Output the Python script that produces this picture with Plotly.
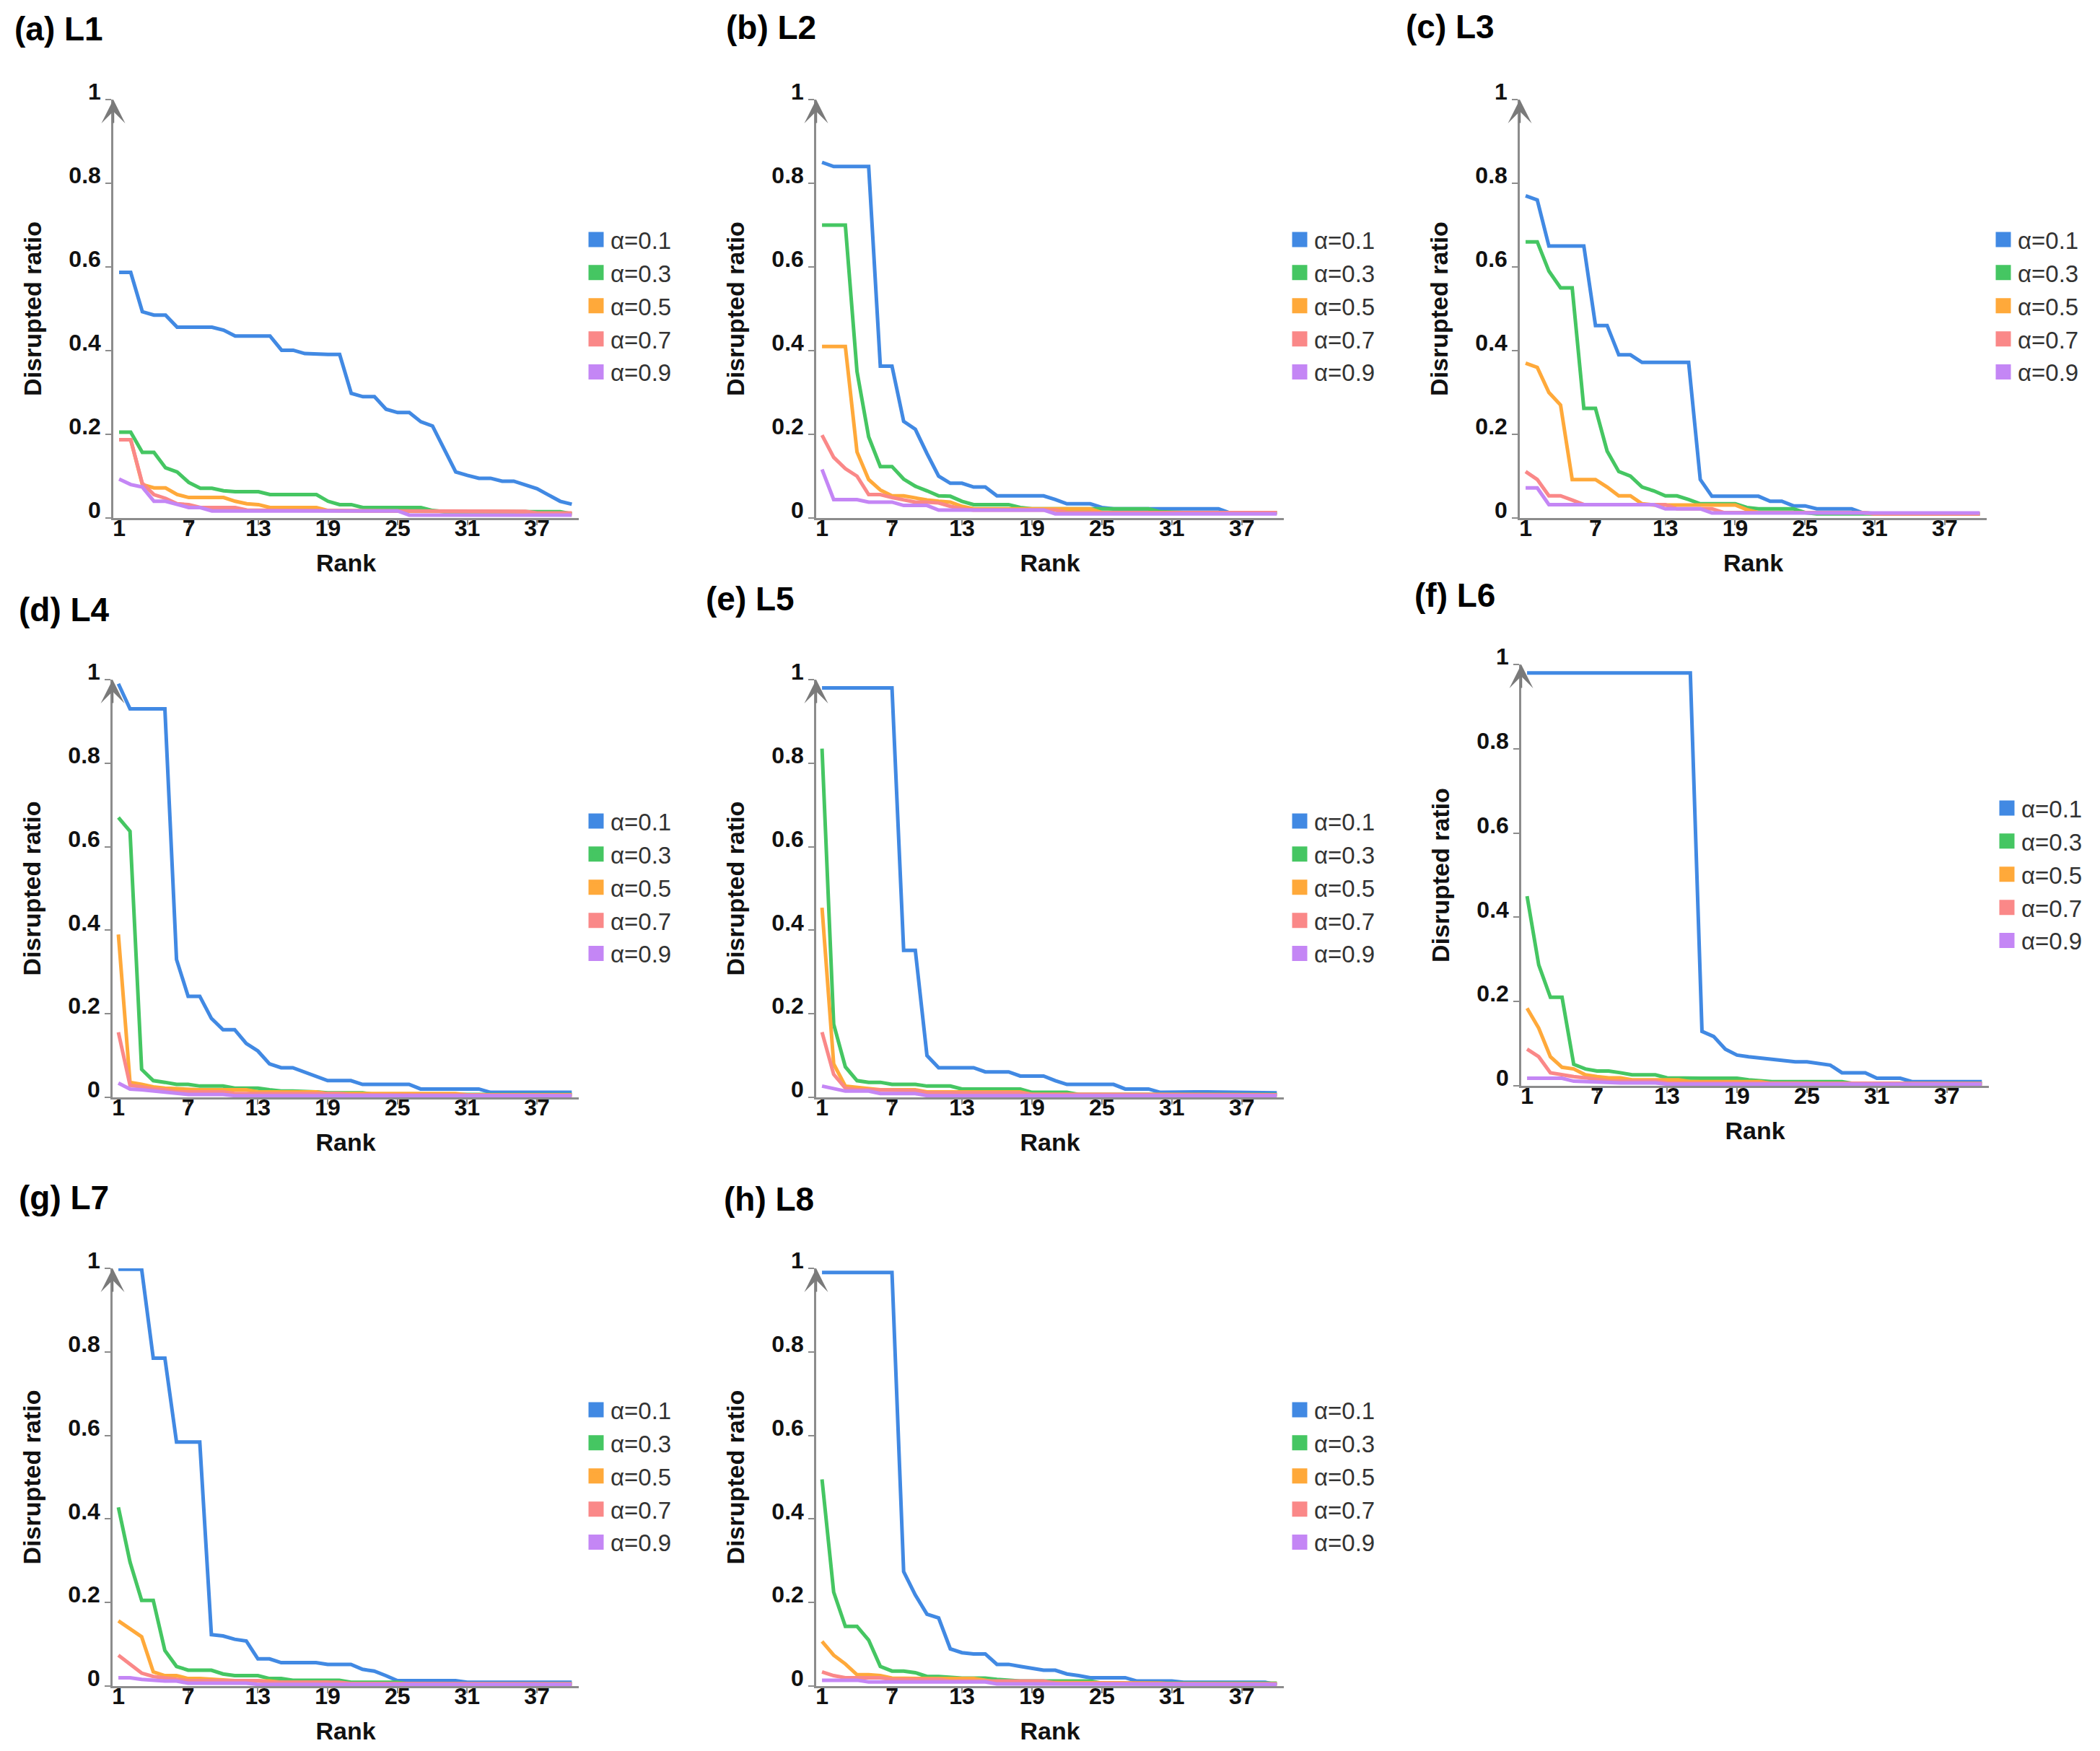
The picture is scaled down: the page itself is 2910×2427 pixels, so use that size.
import plotly.graph_objects as go

# ranks on the x axis (top 40 nodes)
RANKS = list(range(1, 41))
X_TICKS = [1, 7, 13, 19, 25, 31, 37]
Y_TICKS = [0, 0.2, 0.4, 0.6, 0.8, 1]
Y_TICKTEXT = ["0", "0.2", "0.4", "0.6", "0.8", "1"]

ALPHA_LABELS = ["α=0.1", "α=0.3", "α=0.5", "α=0.7", "α=0.9"]
COLORS = ["#4189E3", "#45C662", "#FFA93A", "#FA8888", "#C486F5"]
PANEL_TITLES = ["(a) L1", "(b) L2", "(c) L3", "(d) L4", "(e) L5", "(f) L6", "(g) L7", "(h) L8"]

# disrupted ratio per rank
L1_A1 = [0.587, 0.587, 0.493, 0.485, 0.485, 0.456, 0.456, 0.456, 0.456, 0.449,
         0.435, 0.435, 0.435, 0.435, 0.401, 0.401, 0.393, 0.391, 0.391, 0.391,
         0.298, 0.29, 0.29, 0.26, 0.252, 0.252, 0.23, 0.22, 0.165, 0.11,
         0.102, 0.095, 0.095, 0.088, 0.088, 0.08, 0.07, 0.055, 0.04, 0.033]
L1_A3 = [0.205, 0.205, 0.157, 0.157, 0.12, 0.11, 0.085, 0.071, 0.071, 0.065,
         0.063, 0.063, 0.063, 0.056, 0.056, 0.056, 0.056, 0.056, 0.04, 0.032,
         0.032, 0.025, 0.025, 0.025, 0.025, 0.025, 0.025, 0.018, 0.015, 0.015,
         0.015, 0.015, 0.015, 0.015, 0.015, 0.015, 0.015, 0.015, 0.015, 0.01]
L1_A5 = [0.187, 0.187, 0.08, 0.072, 0.072, 0.056, 0.049, 0.049, 0.049, 0.049,
         0.04, 0.034, 0.032, 0.025, 0.025, 0.025, 0.025, 0.025, 0.018, 0.017,
         0.017, 0.017, 0.017, 0.017, 0.017, 0.017, 0.016, 0.015, 0.015, 0.015,
         0.015, 0.015, 0.015, 0.015, 0.015, 0.013, 0.01, 0.01, 0.01, 0.01]
L1_A7 = [0.187, 0.187, 0.083, 0.056, 0.047, 0.034, 0.032, 0.025, 0.025, 0.025,
         0.025, 0.019, 0.018, 0.018, 0.018, 0.018, 0.018, 0.018, 0.018, 0.018,
         0.017, 0.017, 0.017, 0.017, 0.017, 0.017, 0.016, 0.016, 0.016, 0.016,
         0.016, 0.016, 0.016, 0.016, 0.016, 0.016, 0.012, 0.012, 0.012, 0.012]
L1_A9 = [0.093, 0.08, 0.074, 0.04, 0.04, 0.032, 0.025, 0.025, 0.017, 0.017,
         0.017, 0.017, 0.017, 0.017, 0.017, 0.017, 0.017, 0.017, 0.017, 0.017,
         0.017, 0.017, 0.017, 0.017, 0.017, 0.007, 0.007, 0.007, 0.007, 0.007,
         0.007, 0.007, 0.007, 0.007, 0.007, 0.007, 0.007, 0.007, 0.007, 0.007]

L2_A1 = [0.85, 0.84, 0.84, 0.84, 0.84, 0.363, 0.363, 0.231, 0.212, 0.154,
         0.10, 0.083, 0.083, 0.074, 0.074, 0.053, 0.053, 0.053, 0.053, 0.053,
         0.044, 0.034, 0.034, 0.034, 0.025, 0.022, 0.022, 0.022, 0.022, 0.022,
         0.022, 0.022, 0.022, 0.022, 0.022, 0.012, 0.012, 0.012, 0.012, 0.012]
L2_A3 = [0.70, 0.70, 0.70, 0.35, 0.194, 0.123, 0.123, 0.093, 0.076, 0.065,
         0.053, 0.052, 0.04, 0.032, 0.032, 0.032, 0.032, 0.025, 0.022, 0.022,
         0.022, 0.022, 0.022, 0.022, 0.022, 0.022, 0.022, 0.022, 0.022, 0.015,
         0.013, 0.013, 0.013, 0.013, 0.013, 0.013, 0.013, 0.013, 0.013, 0.013]
L2_A5 = [0.41, 0.41, 0.41, 0.158, 0.092, 0.067, 0.053, 0.053, 0.047, 0.043,
         0.04, 0.038, 0.028, 0.022, 0.022, 0.022, 0.022, 0.022, 0.022, 0.022,
         0.022, 0.022, 0.022, 0.022, 0.013, 0.013, 0.013, 0.013, 0.013, 0.013,
         0.013, 0.013, 0.013, 0.013, 0.013, 0.013, 0.013, 0.013, 0.013, 0.013]
L2_A7 = [0.198, 0.145, 0.118, 0.10, 0.056, 0.056, 0.049, 0.043, 0.038, 0.038,
         0.036, 0.028, 0.022, 0.019, 0.019, 0.019, 0.019, 0.019, 0.019, 0.019,
         0.019, 0.013, 0.013, 0.013, 0.013, 0.013, 0.013, 0.013, 0.013, 0.013,
         0.013, 0.013, 0.013, 0.013, 0.013, 0.013, 0.013, 0.013, 0.013, 0.013]
L2_A9 = [0.116, 0.044, 0.044, 0.044, 0.038, 0.038, 0.038, 0.03, 0.03, 0.03,
         0.019, 0.019, 0.019, 0.019, 0.019, 0.019, 0.019, 0.019, 0.019, 0.019,
         0.01, 0.01, 0.01, 0.01, 0.01, 0.01, 0.01, 0.01, 0.01, 0.01,
         0.01, 0.01, 0.01, 0.01, 0.01, 0.01, 0.01, 0.01, 0.01, 0.01]

L3_A1 = [0.77, 0.76, 0.65, 0.65, 0.65, 0.65, 0.46, 0.46, 0.39, 0.39,
         0.372, 0.372, 0.372, 0.372, 0.372, 0.092, 0.052, 0.052, 0.052, 0.052,
         0.052, 0.04, 0.04, 0.029, 0.029, 0.022, 0.022, 0.022, 0.022, 0.012,
         0.01, 0.01, 0.01, 0.01, 0.01, 0.01, 0.01, 0.01, 0.01, 0.01]
L3_A3 = [0.66, 0.66, 0.59, 0.55, 0.55, 0.262, 0.262, 0.16, 0.111, 0.10,
         0.074, 0.065, 0.053, 0.053, 0.044, 0.034, 0.034, 0.034, 0.034, 0.025,
         0.022, 0.022, 0.022, 0.022, 0.013, 0.01, 0.01, 0.01, 0.01, 0.01,
         0.01, 0.01, 0.01, 0.01, 0.01, 0.01, 0.01, 0.01, 0.01, 0.01]
L3_A5 = [0.37, 0.36, 0.30, 0.27, 0.092, 0.092, 0.092, 0.074, 0.053, 0.053,
         0.034, 0.031, 0.031, 0.031, 0.031, 0.031, 0.031, 0.031, 0.031, 0.02,
         0.013, 0.013, 0.013, 0.013, 0.013, 0.013, 0.013, 0.013, 0.013, 0.013,
         0.01, 0.01, 0.01, 0.01, 0.01, 0.01, 0.01, 0.01, 0.01, 0.01]
L3_A7 = [0.111, 0.092, 0.053, 0.053, 0.043, 0.032, 0.032, 0.032, 0.032, 0.032,
         0.032, 0.032, 0.032, 0.022, 0.022, 0.022, 0.022, 0.013, 0.013, 0.013,
         0.013, 0.013, 0.013, 0.013, 0.013, 0.013, 0.013, 0.013, 0.013, 0.013,
         0.01, 0.01, 0.01, 0.01, 0.01, 0.01, 0.01, 0.01, 0.01, 0.01]
L3_A9 = [0.072, 0.072, 0.032, 0.032, 0.032, 0.032, 0.032, 0.032, 0.032, 0.032,
         0.032, 0.032, 0.022, 0.022, 0.022, 0.022, 0.012, 0.012, 0.012, 0.012,
         0.012, 0.012, 0.012, 0.012, 0.012, 0.012, 0.012, 0.012, 0.012, 0.012,
         0.012, 0.012, 0.012, 0.012, 0.012, 0.012, 0.012, 0.012, 0.012, 0.012]

L4_A1 = [0.99, 0.93, 0.93, 0.93, 0.93, 0.33, 0.242, 0.242, 0.189, 0.162,
         0.162, 0.129, 0.111, 0.08, 0.071, 0.071, 0.061, 0.049, 0.04, 0.04,
         0.04, 0.031, 0.031, 0.031, 0.031, 0.031, 0.02, 0.02, 0.02, 0.02,
         0.02, 0.02, 0.012, 0.012, 0.012, 0.012, 0.012, 0.012, 0.012, 0.012]
L4_A3 = [0.67, 0.637, 0.067, 0.04, 0.036, 0.031, 0.031, 0.027, 0.027, 0.027,
         0.022, 0.022, 0.022, 0.018, 0.015, 0.015, 0.015, 0.013, 0.011, 0.011,
         0.011, 0.011, 0.007, 0.007, 0.007, 0.007, 0.007, 0.007, 0.007, 0.007,
         0.007, 0.007, 0.007, 0.007, 0.007, 0.007, 0.007, 0.007, 0.007, 0.007]
L4_A5 = [0.39, 0.036, 0.031, 0.025, 0.022, 0.02, 0.018, 0.018, 0.018, 0.018,
         0.018, 0.018, 0.013, 0.013, 0.013, 0.013, 0.013, 0.013, 0.009, 0.009,
         0.009, 0.009, 0.009, 0.009, 0.009, 0.009, 0.009, 0.009, 0.009, 0.009,
         0.006, 0.006, 0.006, 0.006, 0.006, 0.006, 0.006, 0.006, 0.006, 0.006]
L4_A7 = [0.156, 0.029, 0.025, 0.02, 0.018, 0.013, 0.013, 0.013, 0.013, 0.013,
         0.009, 0.009, 0.009, 0.009, 0.009, 0.009, 0.009, 0.009, 0.009, 0.009,
         0.006, 0.006, 0.006, 0.006, 0.006, 0.006, 0.006, 0.006, 0.006, 0.006,
         0.005, 0.005, 0.005, 0.005, 0.005, 0.005, 0.005, 0.005, 0.005, 0.005]
L4_A9 = [0.034, 0.02, 0.018, 0.015, 0.013, 0.009, 0.007, 0.007, 0.007, 0.007,
         0.004, 0.004, 0.004, 0.004, 0.004, 0.004, 0.004, 0.004, 0.004, 0.004,
         0.004, 0.004, 0.004, 0.004, 0.004, 0.004, 0.004, 0.004, 0.004, 0.004,
         0.004, 0.004, 0.004, 0.004, 0.004, 0.004, 0.004, 0.004, 0.004, 0.004]

L5_A1 = [0.98, 0.98, 0.98, 0.98, 0.98, 0.98, 0.98, 0.352, 0.352, 0.10,
         0.071, 0.071, 0.071, 0.071, 0.061, 0.061, 0.061, 0.051, 0.051, 0.051,
         0.04, 0.031, 0.031, 0.031, 0.031, 0.031, 0.02, 0.02, 0.02, 0.012,
         0.013, 0.013, 0.013, 0.013, 0.013, 0.011, 0.011, 0.011, 0.011, 0.011]
L5_A3 = [0.835, 0.175, 0.073, 0.04, 0.036, 0.036, 0.031, 0.031, 0.031, 0.027,
         0.027, 0.027, 0.02, 0.02, 0.02, 0.02, 0.02, 0.02, 0.012, 0.012,
         0.012, 0.012, 0.007, 0.007, 0.007, 0.007, 0.007, 0.007, 0.007, 0.007,
         0.007, 0.007, 0.007, 0.007, 0.007, 0.007, 0.007, 0.007, 0.007, 0.007]
L5_A5 = [0.454, 0.08, 0.027, 0.024, 0.022, 0.018, 0.018, 0.018, 0.018, 0.013,
         0.013, 0.013, 0.013, 0.013, 0.013, 0.013, 0.013, 0.013, 0.007, 0.007,
         0.007, 0.007, 0.007, 0.007, 0.007, 0.007, 0.007, 0.007, 0.007, 0.007,
         0.006, 0.006, 0.006, 0.006, 0.006, 0.006, 0.006, 0.006, 0.006, 0.006]
L5_A7 = [0.156, 0.055, 0.022, 0.018, 0.018, 0.018, 0.016, 0.016, 0.016, 0.011,
         0.011, 0.011, 0.011, 0.011, 0.011, 0.011, 0.011, 0.011, 0.007, 0.007,
         0.007, 0.007, 0.007, 0.007, 0.007, 0.007, 0.007, 0.007, 0.007, 0.007,
         0.006, 0.006, 0.006, 0.006, 0.006, 0.006, 0.006, 0.006, 0.006, 0.006]
L5_A9 = [0.027, 0.022, 0.015, 0.015, 0.015, 0.009, 0.009, 0.009, 0.009, 0.004,
         0.004, 0.004, 0.004, 0.004, 0.004, 0.004, 0.004, 0.004, 0.004, 0.004,
         0.004, 0.004, 0.004, 0.004, 0.004, 0.004, 0.004, 0.004, 0.004, 0.004,
         0.004, 0.004, 0.004, 0.004, 0.004, 0.004, 0.004, 0.004, 0.004, 0.004]

L6_A1 = [0.98, 0.98, 0.98, 0.98, 0.98, 0.98, 0.98, 0.98, 0.98, 0.98,
         0.98, 0.98, 0.98, 0.98, 0.98, 0.129, 0.117, 0.087, 0.073, 0.069,
         0.066, 0.063, 0.06, 0.057, 0.057, 0.053, 0.049, 0.031, 0.031, 0.031,
         0.018, 0.018, 0.018, 0.01, 0.01, 0.01, 0.01, 0.01, 0.01, 0.01]
L6_A3 = [0.45, 0.287, 0.21, 0.21, 0.051, 0.04, 0.035, 0.035, 0.031, 0.026,
         0.026, 0.026, 0.019, 0.018, 0.018, 0.018, 0.018, 0.018, 0.018, 0.014,
         0.011, 0.01, 0.01, 0.01, 0.01, 0.01, 0.01, 0.01, 0.005, 0.005,
         0.005, 0.005, 0.005, 0.005, 0.005, 0.005, 0.005, 0.005, 0.005, 0.005]
L6_A5 = [0.184, 0.137, 0.069, 0.044, 0.04, 0.026, 0.022, 0.019, 0.019, 0.014,
         0.014, 0.014, 0.014, 0.014, 0.01, 0.01, 0.01, 0.01, 0.01, 0.01,
         0.01, 0.005, 0.005, 0.005, 0.005, 0.005, 0.005, 0.005, 0.005, 0.005,
         0.005, 0.005, 0.005, 0.005, 0.005, 0.005, 0.005, 0.005, 0.005, 0.005]
L6_A7 = [0.087, 0.069, 0.031, 0.026, 0.022, 0.019, 0.016, 0.011, 0.011, 0.011,
         0.011, 0.011, 0.007, 0.007, 0.007, 0.007, 0.007, 0.007, 0.007, 0.007,
         0.007, 0.007, 0.007, 0.007, 0.007, 0.007, 0.007, 0.007, 0.007, 0.007,
         0.005, 0.005, 0.005, 0.005, 0.005, 0.005, 0.005, 0.005, 0.005, 0.005]
L6_A9 = [0.018, 0.018, 0.018, 0.018, 0.011, 0.01, 0.007, 0.007, 0.007, 0.007,
         0.007, 0.007, 0.004, 0.004, 0.004, 0.004, 0.004, 0.004, 0.004, 0.004,
         0.004, 0.004, 0.004, 0.004, 0.004, 0.004, 0.004, 0.004, 0.004, 0.004,
         0.004, 0.004, 0.004, 0.004, 0.004, 0.004, 0.004, 0.004, 0.004, 0.004]

L7_A1 = [0.998, 0.998, 0.998, 0.785, 0.785, 0.584, 0.584, 0.584, 0.123, 0.12,
         0.112, 0.108, 0.065, 0.065, 0.056, 0.056, 0.056, 0.056, 0.052, 0.052,
         0.052, 0.04, 0.036, 0.025, 0.013, 0.013, 0.013, 0.013, 0.013, 0.013,
         0.009, 0.009, 0.009, 0.009, 0.009, 0.009, 0.009, 0.009, 0.009, 0.009]
L7_A3 = [0.428, 0.297, 0.205, 0.205, 0.085, 0.047, 0.038, 0.038, 0.038, 0.029,
         0.025, 0.025, 0.025, 0.018, 0.018, 0.014, 0.014, 0.014, 0.014, 0.014,
         0.009, 0.009, 0.009, 0.009, 0.009, 0.005, 0.005, 0.005, 0.005, 0.005,
         0.005, 0.005, 0.005, 0.005, 0.005, 0.005, 0.005, 0.005, 0.005, 0.005]
L7_A5 = [0.156, 0.136, 0.118, 0.034, 0.025, 0.025, 0.018, 0.018, 0.016, 0.013,
         0.013, 0.013, 0.013, 0.012, 0.009, 0.009, 0.009, 0.009, 0.009, 0.005,
         0.005, 0.005, 0.005, 0.005, 0.005, 0.005, 0.005, 0.005, 0.005, 0.005,
         0.005, 0.005, 0.005, 0.005, 0.005, 0.005, 0.005, 0.005, 0.005, 0.005]
L7_A7 = [0.074, 0.052, 0.031, 0.023, 0.02, 0.018, 0.013, 0.013, 0.013, 0.013,
         0.013, 0.013, 0.013, 0.009, 0.009, 0.009, 0.009, 0.009, 0.009, 0.009,
         0.006, 0.006, 0.006, 0.006, 0.006, 0.006, 0.006, 0.006, 0.006, 0.006,
         0.005, 0.005, 0.005, 0.005, 0.005, 0.005, 0.005, 0.005, 0.005, 0.005]
L7_A9 = [0.02, 0.02, 0.016, 0.013, 0.012, 0.012, 0.007, 0.007, 0.007, 0.007,
         0.007, 0.007, 0.004, 0.004, 0.004, 0.004, 0.004, 0.004, 0.004, 0.004,
         0.004, 0.004, 0.004, 0.004, 0.004, 0.004, 0.004, 0.004, 0.004, 0.004,
         0.004, 0.004, 0.004, 0.004, 0.004, 0.004, 0.004, 0.004, 0.004, 0.004]

L8_A1 = [0.99, 0.99, 0.99, 0.99, 0.99, 0.99, 0.99, 0.274, 0.218, 0.172,
         0.163, 0.089, 0.08, 0.077, 0.077, 0.052, 0.052, 0.047, 0.043, 0.038,
         0.038, 0.029, 0.025, 0.02, 0.02, 0.02, 0.02, 0.012, 0.012, 0.012,
         0.012, 0.009, 0.009, 0.009, 0.009, 0.009, 0.009, 0.009, 0.009, 0.003]
L8_A3 = [0.495, 0.225, 0.143, 0.143, 0.11, 0.047, 0.036, 0.036, 0.032, 0.023,
         0.023, 0.02, 0.019, 0.019, 0.019, 0.016, 0.013, 0.012, 0.012, 0.012,
         0.012, 0.012, 0.012, 0.012, 0.007, 0.007, 0.007, 0.007, 0.007, 0.007,
         0.007, 0.007, 0.007, 0.007, 0.007, 0.007, 0.007, 0.007, 0.007, 0.007]
L8_A5 = [0.107, 0.074, 0.053, 0.027, 0.027, 0.025, 0.019, 0.018, 0.018, 0.018,
         0.018, 0.018, 0.018, 0.018, 0.014, 0.009, 0.009, 0.009, 0.009, 0.009,
         0.007, 0.007, 0.007, 0.007, 0.007, 0.007, 0.007, 0.007, 0.007, 0.007,
         0.005, 0.005, 0.005, 0.005, 0.005, 0.005, 0.005, 0.005, 0.005, 0.005]
L8_A7 = [0.034, 0.025, 0.02, 0.02, 0.02, 0.02, 0.016, 0.016, 0.016, 0.016,
         0.016, 0.012, 0.012, 0.012, 0.012, 0.012, 0.012, 0.012, 0.012, 0.012,
         0.007, 0.007, 0.007, 0.007, 0.007, 0.007, 0.007, 0.007, 0.007, 0.007,
         0.005, 0.005, 0.005, 0.005, 0.005, 0.005, 0.005, 0.005, 0.005, 0.005]
L8_A9 = [0.014, 0.014, 0.014, 0.014, 0.01, 0.01, 0.01, 0.01, 0.01, 0.01,
         0.01, 0.01, 0.01, 0.01, 0.01, 0.005, 0.005, 0.005, 0.005, 0.005,
         0.005, 0.005, 0.005, 0.005, 0.005, 0.005, 0.005, 0.005, 0.005, 0.005,
         0.004, 0.004, 0.004, 0.004, 0.004, 0.004, 0.004, 0.004, 0.004, 0.004]

SERIES = [
    [L1_A1, L1_A3, L1_A5, L1_A7, L1_A9],
    [L2_A1, L2_A3, L2_A5, L2_A7, L2_A9],
    [L3_A1, L3_A3, L3_A5, L3_A7, L3_A9],
    [L4_A1, L4_A3, L4_A5, L4_A7, L4_A9],
    [L5_A1, L5_A3, L5_A5, L5_A7, L5_A9],
    [L6_A1, L6_A3, L6_A5, L6_A7, L6_A9],
    [L7_A1, L7_A3, L7_A5, L7_A7, L7_A9],
    [L8_A1, L8_A3, L8_A5, L8_A7, L8_A9],
]
for group in SERIES:
    for s in group:
        assert len(s) == len(RANKS)

W, H = 2910, 2427
FONT = "Liberation Sans, Arial, sans-serif"
AXIS_GREY = "#8c8c8c"

# pixel geometry of each panel: axis left, axis right, y=0 row, y=1 row,
# legend swatch centre x, legend middle y, title left, title top
GEOM = [
    (157, 802, 718, 138, 826, 424, 18, 12),
    (1131, 1779, 718, 138, 1801, 424, 1004, 10),
    (2106, 2753, 718, 138, 2776, 424, 1946, 9),
    (156, 802, 1521, 942, 826, 1230, 24, 817),
    (1131, 1779, 1521, 942, 1801, 1230, 976, 802),
    (2108, 2756, 1505, 921, 2781, 1212, 1958, 797),
    (156, 802, 2337, 1758, 826, 2046, 24, 1632),
    (1131, 1779, 2337, 1758, 1801, 2046, 1001, 1634),
]

fig = go.Figure()
annotations = []
layout = {}

for i, (group, geo, title) in enumerate(zip(SERIES, GEOM, PANEL_TITLES), start=1):
    xl, xr, y0, y1, lx, ly, tx, ty = geo
    sfx = "" if i == 1 else str(i)
    xa, ya, lg = "x" + sfx, "y" + sfx, "legend" + sfx

    for vals, name, col in zip(group, ALPHA_LABELS, COLORS):
        fig.add_trace(go.Scatter(
            x=RANKS, y=vals, mode="lines", name=name,
            line=dict(color=col, width=5),
            xaxis=xa, yaxis=ya, showlegend=False, hoverinfo="x+y+name",
        ))
    # square swatches for the legend
    for name, col in zip(ALPHA_LABELS, COLORS):
        fig.add_trace(go.Scatter(
            x=[None], y=[None], mode="markers", name=name,
            marker=dict(symbol="square", size=16, color=col, line=dict(color=col, width=5)),
            xaxis=xa, yaxis=ya, legend=lg, showlegend=True,
        ))

    layout["xaxis" + sfx] = dict(
        domain=[xl / W, xr / W], range=[0.5, 40.6], anchor=ya,
        tickmode="array", tickvals=X_TICKS,
        ticks="outside", ticklen=7, tickwidth=2, tickcolor=AXIS_GREY,
        ticklabelstandoff=-23,
        showline=True, linecolor=AXIS_GREY, linewidth=2.5,
        showgrid=False, zeroline=False, automargin=False,
        tickfont=dict(size=32, weight="bold", color="#111"),
        title=dict(text="Rank", font=dict(size=34, weight="bold", color="#111"), standoff=20),
    )
    layout["yaxis" + sfx] = dict(
        domain=[(H - y0) / H, (H - y1) / H], range=[0, 1], anchor=xa,
        tickmode="array", tickvals=Y_TICKS, ticktext=Y_TICKTEXT,
        ticks="outside", ticklen=8, tickwidth=2, tickcolor=AXIS_GREY,
        ticklabelshift=-11,
        showline=True, linecolor=AXIS_GREY, linewidth=2.5,
        showgrid=False, zeroline=False, automargin=False,
        tickfont=dict(size=32, weight="bold", color="#111"),
        title=dict(text="Disrupted ratio", font=dict(size=34, weight="bold", color="#111"), standoff=28),
    )
    layout[lg] = dict(
        x=(lx - 20) / W, y=(H - ly) / H, xanchor="left", yanchor="middle",
        font=dict(size=33, color="#333", family=FONT),
        bgcolor="rgba(0,0,0,0)", borderwidth=0, tracegroupgap=0,
    )
    # arrow head on top of the y axis
    annotations.append(dict(
        x=0.5, y=1.0, xref=xa, yref=ya, ax=0, ay=34, text="",
        showarrow=True, arrowhead=3, arrowsize=2.2, arrowwidth=2.5,
        arrowcolor="#7a7a7a", standoff=0,
    ))
    annotations.append(dict(
        x=tx / W, y=(H - ty) / H, xref="paper", yref="paper",
        xanchor="left", yanchor="top", text=title, showarrow=False,
        font=dict(size=46, weight="bold", color="#000"),
    ))

fig.update_layout(
    width=W, height=H,
    margin=dict(l=0, r=0, t=0, b=0, autoexpand=False),
    paper_bgcolor="white", plot_bgcolor="white",
    font=dict(family=FONT, color="#111"),
    annotations=annotations,
    **layout,
)

fig.write_html(
    "out.html",
    config={"displayModeBar": False},
    post_script="document.body.style.margin='0';document.body.style.overflow='hidden';",
)
